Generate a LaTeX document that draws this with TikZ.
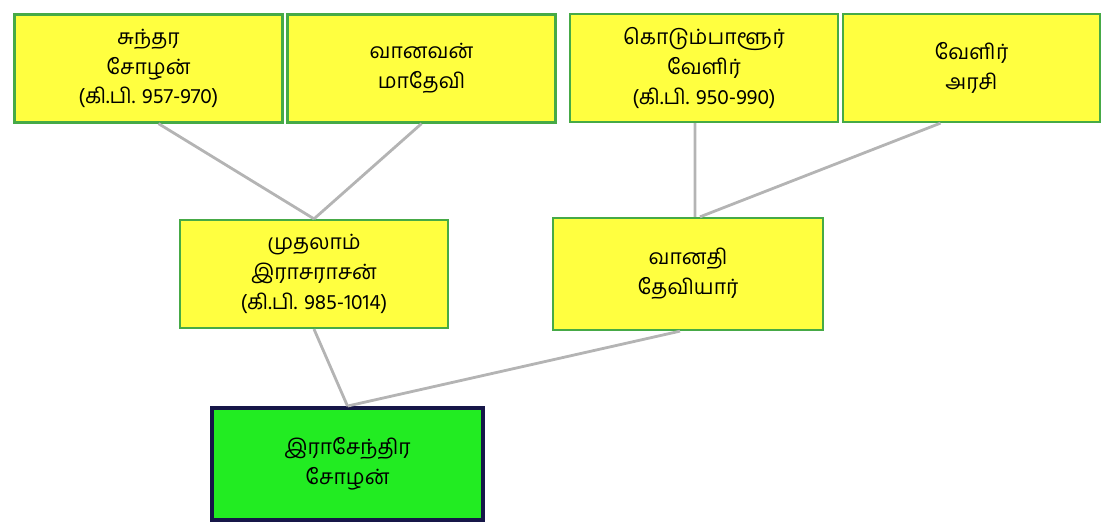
\documentclass[tikz,border=0pt]{standalone}
\usepackage{fontspec}
\newfontfamily\tamilfont[Script=Tamil]{Hind Madurai}
\usetikzlibrary{positioning}
\definecolor{boxyellow}{RGB}{255,255,64}
\definecolor{boxgreen}{RGB}{70,170,70}
\definecolor{selfgreen}{RGB}{34,236,34}
\definecolor{selfnavy}{RGB}{22,22,72}
\definecolor{linkgray}{RGB}{180,180,180}
\tikzset{
	person/.style={draw=boxgreen, fill=boxyellow, line width=1.3pt, align=center,
		minimum width=5.36cm, minimum height=2.16cm,
		font=\tamilfont\fontsize{12}{17}\selectfont},
	self/.style={person, draw=selfnavy, fill=selfgreen, line width=2.2pt},
	link/.style={draw=linkgray, line width=1.6pt}
}

\begin{document}
\begin{tikzpicture}
	\useasboundingbox (0,0) rectangle (22.04,-10.46);
	% grandparents
	\node[person] (ggfa) at (2.97,-1.37) {சுந்தர\\சோழன்\\(கி.பி. 957-970)};
	\node[person] (ggmo) at (8.43,-1.37) {வானவன்\\மாதேவி};
	\node[person] (mgfa) at (14.08,-1.36) {கொடும்பாளூர்\\வேளிர்\\(கி.பி. 950-990)};
	\node[person, minimum width=5.14cm] (mgmo) at (19.43,-1.36) {வேளிர்\\அரசி};
	% parents
	\node[person] (father) at (6.28,-5.48) {முதலாம்\\இராசராசன்\\(கி.பி. 985-1014)};
	\node[person, minimum width=5.4cm, minimum height=2.24cm] (mother) at (13.76,-5.48) {வானதி\\தேவியார்};
	% child
	\node[self, minimum width=5.42cm, minimum height=2.24cm] (child) at (6.95,-9.28) {இராசேந்திர\\சோழன்};
	\draw[link] ([xshift=2mm]ggfa.south) -- (father.north);
	\draw[link] (ggmo.south) -- (father.north);
	\draw[link] ([xshift=-1.8mm]mgfa.south) -- ([xshift=1.4mm]mother.north);
	\draw[link] ([xshift=-6.2mm]mgmo.south) -- ([xshift=2.4mm]mother.north);
	\draw[link] (father.south) -- (child.north);
	\draw[link] ([xshift=-1.6mm]mother.south) -- (child.north);
\end{tikzpicture}
\end{document}
